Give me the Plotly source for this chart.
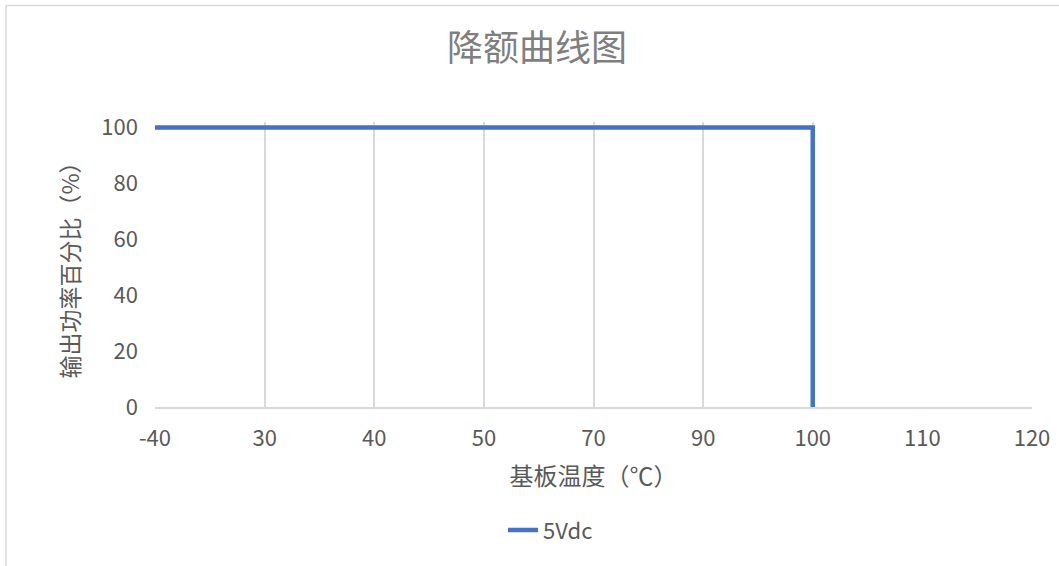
import plotly.graph_objects as go

# Data
categories = ["-40", "30", "40", "50", "70", "90", "100", "110", "120"]
series_name = "5Vdc"
point_categories = ["-40", "30", "40", "50", "70", "90", "100", "100"]
power_values = [100, 100, 100, 100, 100, 100, 100, 0]
grid_categories = ["-40", "30", "40", "50", "70", "90", "100"]
y_ticks = [0, 20, 40, 60, 80, 100]

cat_pos = {c: i for i, c in enumerate(categories)}
xs = [cat_pos[c] for c in point_categories]

FONT = "Noto Sans CJK SC, Microsoft YaHei, sans-serif"
TICK_COLOR = "#595959"

W, H = 1059, 566
Y_TOP = 102  # small headroom so the 100% line is not clipped
px_per_unit = (407 - 128) / 100
L, R, B = 155, 27, H - 407
T = 128 - (Y_TOP - 100) * px_per_unit
pw, ph = W - L - R, H - T - B

def px_x(p):
    return (p - L) / pw

def px_y(p):
    return (H - B - p) / ph

fig = go.Figure()
fig.add_trace(go.Scatter(
    x=xs, y=power_values, mode="lines", name=series_name,
    line=dict(color="#4472C4", width=4),
    xaxis="x2", showlegend=False, hoverinfo="skip", opacity=0,
))
fig.add_trace(go.Scatter(
    x=xs, y=power_values, mode="lines", name=series_name,
    line=dict(color="#4472C4", width=4.5),
))

fig.update_layout(
    width=W, height=H,
    margin=dict(l=L, r=R, t=T, b=B, autoexpand=False),
    paper_bgcolor="white", plot_bgcolor="white",
    font=dict(family=FONT, color=TICK_COLOR, size=20),
    title=dict(text="降额曲线图", xref="paper", x=px_x(537), xanchor="center",
               yref="container", y=1 - 48 / H, yanchor="middle",
               font=dict(size=36, color="#7f7f7f", family=FONT)),
    xaxis=dict(
        range=[0, len(categories) - 1], tickmode="array",
        tickvals=list(range(len(categories))), ticktext=categories,
        showgrid=False, zeroline=False, showline=True, linecolor="#d9d9d9",
        linewidth=1.5, ticks="", tickfont=dict(size=22, color=TICK_COLOR),
        ticklabelstandoff=11,
        title=dict(text="基板温度（℃）", font=dict(size=24, color=TICK_COLOR), standoff=17),
    ),
    xaxis2=dict(
        overlaying="x", matches="x", range=[0, len(categories) - 1],
        tickmode="array", tickvals=[cat_pos[c] for c in grid_categories],
        showgrid=True, gridcolor="#d9d9d9", gridwidth=1.5,
        showticklabels=False, zeroline=False, showline=False, ticks="",
    ),
    yaxis=dict(
        range=[0, Y_TOP], tickmode="array", tickvals=y_ticks,
        showgrid=False, zeroline=False, showline=False, ticks="",
        tickfont=dict(size=22, color=TICK_COLOR), ticklabelstandoff=16,
        title=dict(text="输出功率百分比（%）", font=dict(size=23, color=TICK_COLOR), standoff=15),
    ),
    legend=dict(orientation="h", x=px_x(503), xanchor="left",
                y=px_y(530), yanchor="middle",
                font=dict(size=22, color=TICK_COLOR), bgcolor="rgba(0,0,0,0)"),
    shapes=[dict(type="rect", xref="paper", yref="paper",
                 x0=px_x(6), x1=px_x(1070), y0=px_y(580), y1=px_y(6),
                 line=dict(color="#d9d9d9", width=1.5), fillcolor="rgba(0,0,0,0)",
                 layer="below")],
)

fig.write_html("out.html", config={"displayModeBar": False},
               post_script="document.body.style.margin='0';")
